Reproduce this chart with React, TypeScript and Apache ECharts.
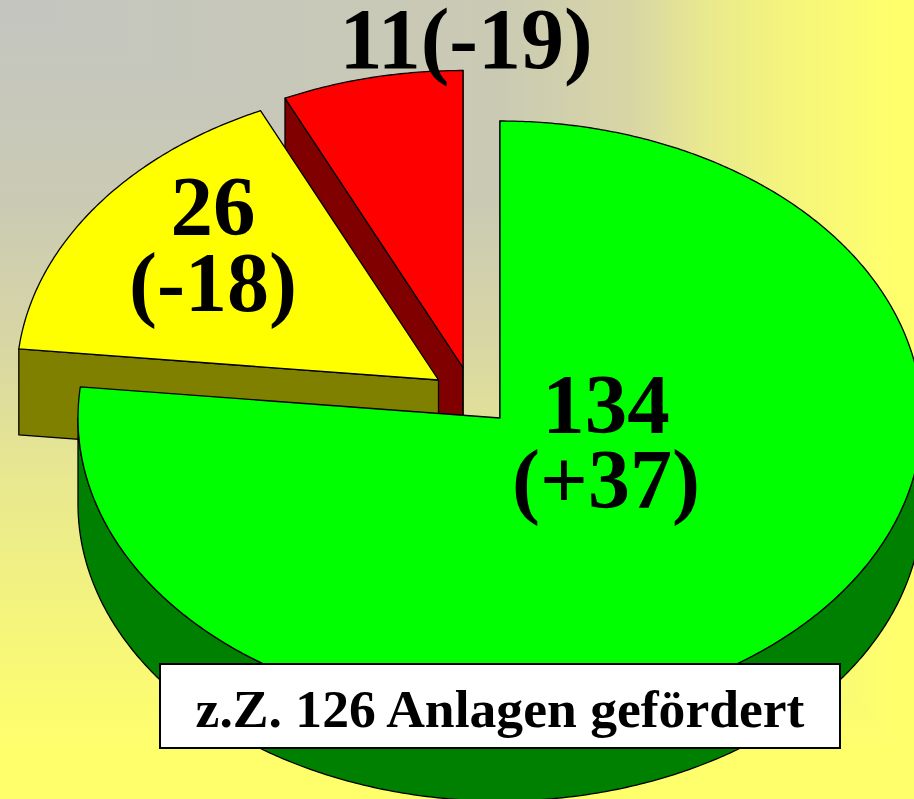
import React, { useEffect, useRef } from "react";
import * as echarts from "echarts";

// Drawn back to front: the red slice first, the large green one last.
const categories = ["rot", "gelb", "grün"];
const sliceValues = [11, 26, 134];
const valueLabels = ["11(-19)", "26", "134"];
const changeLabels = ["", "(-18)", "(+37)"];
const footerText = "z.Z. 126 Anlagen gefördert";

const topColors = ["#ff0000", "#ffff00", "#00ff00"];
const wallColors = ["#800000", "#808000", "#008000"];

const WIDTH = 914;
const HEIGHT = 799;
const RX = 422;
const RY = 297;
const DEPTH = 86;
// exploded position of each slice's apex
const apexX = [463, 438.5, 500];
const apexY = [367.5, 380, 418];

const rad = (d: number) => (d * Math.PI) / 180;
// The source's 3D perspective slightly compresses the true pie angle.
const project = (deg: number) =>
  deg + 6.73 * Math.sin(rad(deg)) - 1.18 * Math.sin(rad(2 * deg));

const total = sliceValues.reduce((a, b) => a + b, 0);

function sliceAngles(i: number): [number, number] {
  // clockwise from 12 o'clock, with the last array item starting at 0
  let after = 0;
  for (let k = i + 1; k < sliceValues.length; k++) after += sliceValues[k];
  const a0 = (after / total) * 360;
  const a1 = ((after + sliceValues[i]) / total) * 360;
  return [project(a0), project(a1)];
}

function renderSlice(params: any, api: any) {
  const i = params.dataIndex;
  const cx = apexX[i];
  const cy = apexY[i];
  const [a0, a1] = sliceAngles(i);
  const pt = (a: number, dz = 0): number[] => [
    cx + RX * Math.sin(rad(a)),
    cy - RY * Math.cos(rad(a)) + dz,
  ];
  const arc = (from: number, to: number, dz = 0) => {
    const n = Math.max(2, Math.ceil(Math.abs(to - from) * 2));
    const out: number[][] = [];
    for (let k = 0; k <= n; k++) out.push(pt(from + ((to - from) * k) / n, dz));
    return out;
  };
  const edge = { stroke: "#000", lineWidth: 1.3, lineJoin: "round" };
  const wallStyle = { fill: wallColors[i], ...edge };
  const children: any[] = [];
  const eps = 1e-6;
  const cutFace = (a: number) => ({
    type: "polygon",
    shape: { points: [[cx, cy], pt(a), pt(a, DEPTH), [cx, cy + DEPTH]] },
    style: wallStyle,
  });
  // only the cut faces that turn towards the viewer are drawn
  if (Math.sin(rad(a0)) <= eps) children.push(cutFace(a0));
  if (Math.sin(rad(a1)) >= -eps) children.push(cutFace(a1));
  const w0 = Math.max(a0, 90);
  const w1 = Math.min(a1, 270);
  if (w1 > w0) {
    children.push({
      type: "polygon",
      shape: { points: [...arc(w0, w1), ...arc(w1, w0, DEPTH)] },
      style: wallStyle,
    });
  }
  children.push({
    type: "polygon",
    shape: { points: [[cx, cy], ...arc(a0, a1)] },
    style: { fill: topColors[i], ...edge },
  });
  return { type: "group", children };
}

const serif = '"Liberation Serif", "Times New Roman", serif';

function label(text: string, x: number, y: number, size: number) {
  return {
    type: "text",
    z: 100,
    x,
    y,
    style: {
      text,
      fill: "#000",
      font: `bold ${size}px ${serif}`,
      lineHeight: Math.round(size * 0.85),
      align: "center",
      verticalAlign: "middle",
    },
  };
}

export default function App() {
  const ref = useRef<HTMLDivElement>(null);
  useEffect(() => {
    document.body.style.margin = "0";
    document.body.style.overflow = "hidden";
    const chart = echarts.init(ref.current!, undefined, { renderer: "svg" });
    chart.setOption({
      animation: false,
      graphic: {
        elements: [
          {
            type: "rect",
            z: -10,
            shape: { x: 0, y: 0, width: WIDTH, height: HEIGHT },
            style: {
              fill: new echarts.graphic.LinearGradient(
                0, 0, 0, HEIGHT,
                [
                  { offset: 0, color: "#c4c5c0" },
                  { offset: 0.25, color: "#cacab4" },
                  { offset: 0.43, color: "#d8d6a4" },
                  { offset: 0.6, color: "#e8e890" },
                  { offset: 0.8, color: "#f6f67a" },
                  { offset: 0.94, color: "#ffff6c" },
                  { offset: 1, color: "#ffff6c" },
                ],
                true
              ),
            },
          },
          {
            type: "polygon",
            z: -9,
            shape: {
              points: [
                [0, 0], [WIDTH, 0], [WIDTH, 760], [800, 640], [700, 480], [633, 344], [500, 200],
              ],
            },
            style: {
              fill: new echarts.graphic.LinearGradient(
                0, 0, WIDTH, 0,
                [
                  { offset: 0, color: "#c4c5c0" },
                  { offset: 0.547, color: "#cacab4" },
                  { offset: 0.693, color: "#d8d6a4" },
                  { offset: 0.766, color: "#e8e890" },
                  { offset: 0.875, color: "#f6f67a" },
                  { offset: 0.98, color: "#ffff6c" },
                  { offset: 1, color: "#ffff6c" },
                ],
                true
              ),
            },
          },
          label(valueLabels[0], 466, 39, 86),
          label(valueLabels[1], 213, 206, 85),
          label(changeLabels[1], 213, 282, 84),
          label(valueLabels[2], 606, 404, 85),
          label(changeLabels[2], 606, 479, 84),
          {
            type: "rect",
            z: 99,
            shape: { x: 160, y: 664, width: 680, height: 84 },
            style: { fill: "#fff", stroke: "#000", lineWidth: 2 },
          },
          label(footerText, 500, 709, 53.6),
        ],
      },
      series: [
        {
          type: "custom",
          coordinateSystem: "none",
          silent: true,
          z: 2,
          renderItem: renderSlice,
          data: categories.map((name, i) => ({ name, value: [sliceValues[i]] })),
        },
      ],
    });
    return () => chart.dispose();
  }, []);
  return <div ref={ref} style={{ width: WIDTH, height: HEIGHT }} />;
}
